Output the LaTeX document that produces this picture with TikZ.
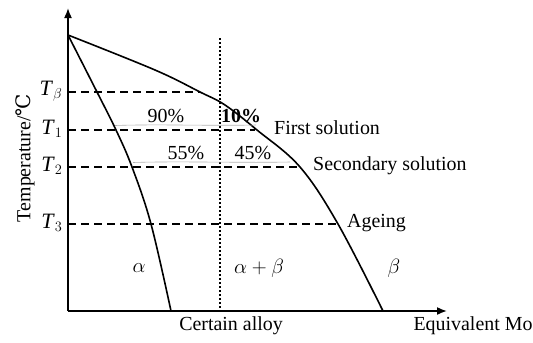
\documentclass[tikz,border=0pt]{standalone}
\usepackage{fontspec}
\setmainfont{Liberation Serif}
\newfontfamily\dejavu{DejaVu Serif}
\usetikzlibrary{arrows.meta}
\begin{document}
\begin{tikzpicture}[x=1bp,y=-1bp,
  lbl/.style={font=\fontsize{20}{22}\selectfont, inner sep=0pt},
  tl/.style={font=\fontsize{22}{24}\selectfont, inner sep=0pt},
  thickln/.style={line width=1.6bp},
  dashln/.style={line width=1.6bp, dash pattern=on 8bp off 5bp},
  greyln/.style={gray!60, line width=0.6bp}]
\useasboundingbox (0,0) rectangle (533,342);
% axes
\coordinate (O) at (68,311);
\coordinate (Ytip) at (68,8);
\coordinate (Xtip) at (447,311);
\draw[thickln, -{Latex[length=10bp,width=8bp]}] (O) -- (Ytip);
\draw[thickln, -{Latex[length=10bp,width=8bp]}] (O) -- (Xtip);
% phase boundaries
\coordinate (top) at (68,35);
\draw[thickln] plot[smooth, tension=0.6] coordinates {(68,35) (97,92) (116,130) (132,167) (151,224) (171,311)};
\draw[thickln] plot[smooth, tension=0.6] coordinates {(68,35) (155,70) (200,92) (225,105) (257,130) (300,167) (338,224) (383,311)};
% dotted alloy line
\draw[line width=1.2bp, dash pattern=on 1.5bp off 2.5bp] (220,38) -- (220,311);
% dashed temperature lines
\draw[dashln] (68,92) -- (200,92);
\draw[dashln] (68,130) -- (255,130);
\draw[dashln] (68,167) -- (299,167);
\draw[dashln] (68,224) -- (336,224);
% grey underlines
\draw[greyln] (115,125.5) .. controls (160,124) and (210,126) .. (256,125);
\draw[greyln] (133,162.5) .. controls (180,161) and (240,163) .. (290,162);
% T labels
\node[tl] (tb) at (51,91) {\textit{T}$_{\beta}$};
\node[tl] (t1) at (52,129) {\textit{T}$_{1}$};
\node[tl] (t2) at (52,166) {\textit{T}$_{2}$};
\node[tl] (t3) at (52,223) {\textit{T}$_{3}$};
\node[lbl, rotate=90] (ylab) at (25,158) {Temperature/{\dejavu ℃}};
% percents
\node[lbl] (p90) at (166,116) {90\%};
\node[lbl] (p10) at (241,116) {\textbf{10\%}};
\node[lbl] (p55) at (186,153) {55\%};
\node[lbl] (p45) at (253,153) {45\%};
% process labels
\node[lbl, anchor=west] (fs) at (274,128) {First solution};
\node[lbl, anchor=west] (ss) at (313,166) {Secondary solution};
\node[lbl, anchor=west] (ag) at (347,223) {Ageing};
% phase labels
\node[tl] (al) at (139,268) {$\alpha$};
\node[tl] (ab) at (259,268) {$\alpha+\beta$};
\node[tl] (be) at (394,268) {$\beta$};
% axis labels
\node[lbl] (ca) at (231,326) {Certain alloy};
\node[lbl] (em) at (473,326) {Equivalent Mo};
\end{tikzpicture}
\end{document}
